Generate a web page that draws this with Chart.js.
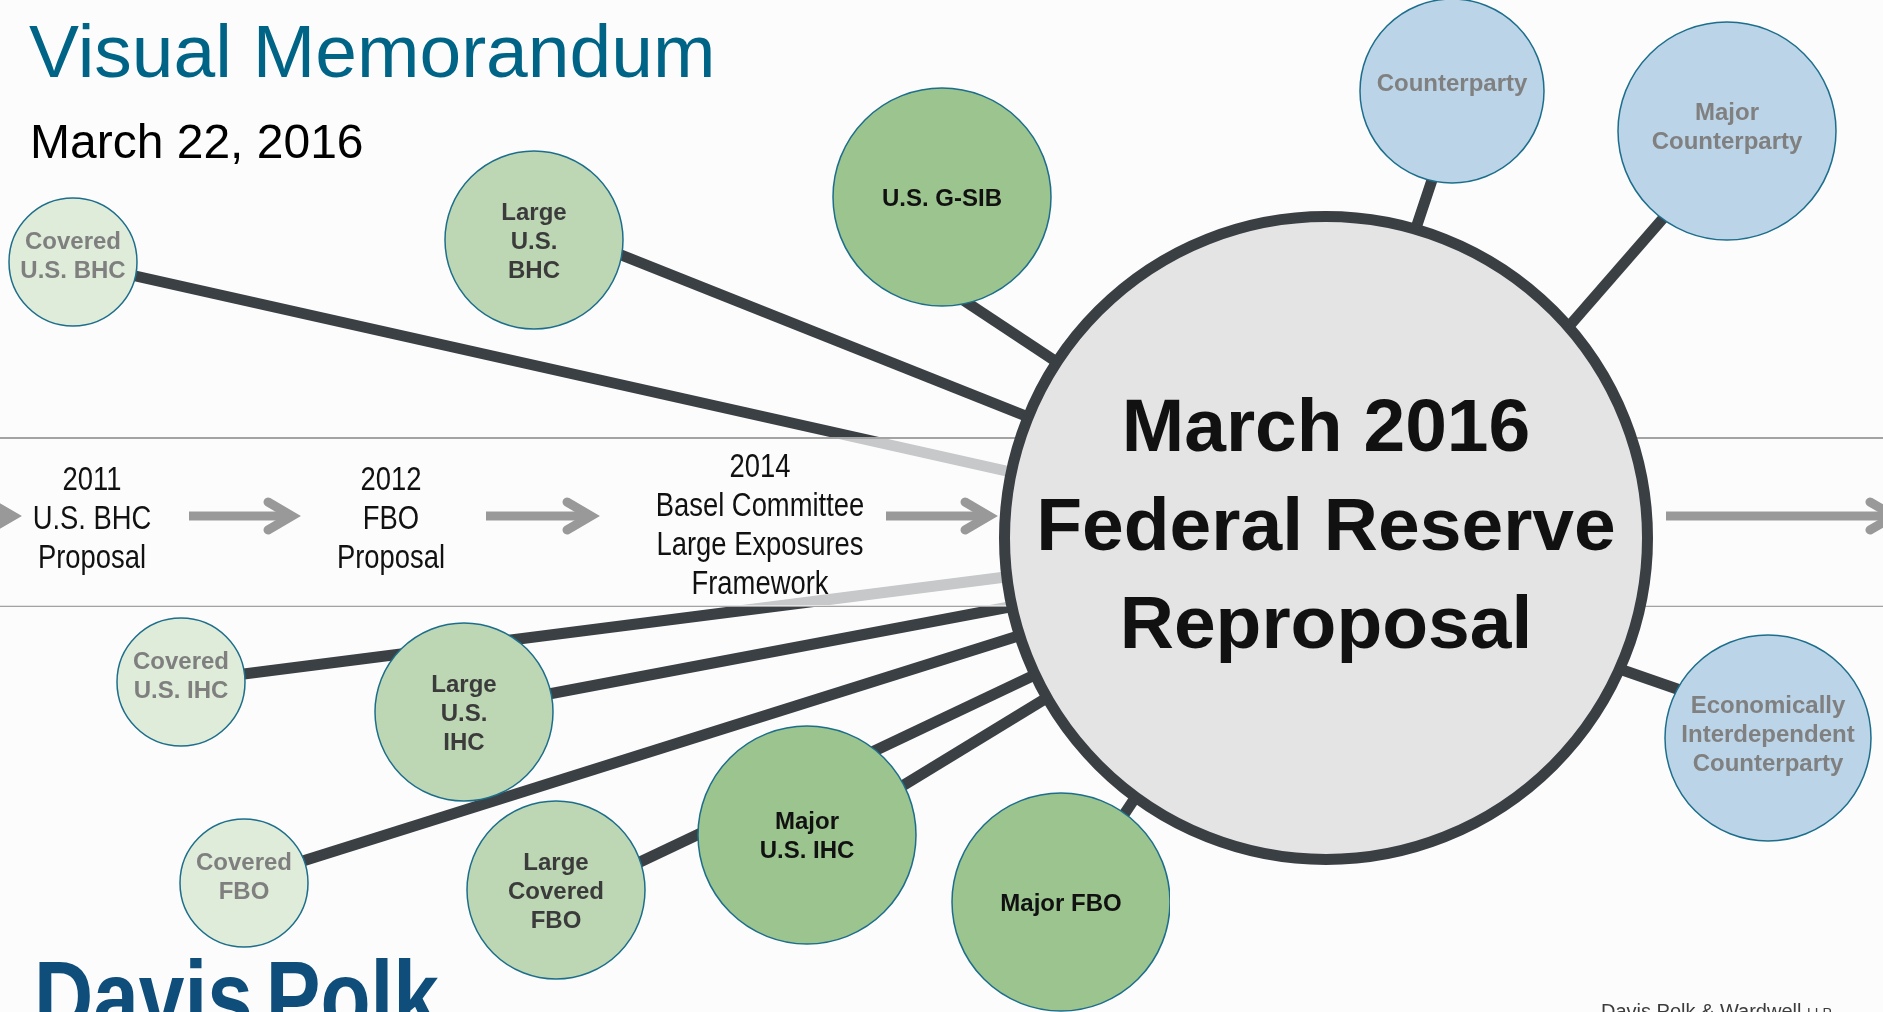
<!DOCTYPE html>
<html>
<head>
<meta charset="utf-8">
<script src="https://cdn.jsdelivr.net/npm/chart.js@4.4.1/dist/chart.umd.min.js"></script>
<style>
  html, body { margin:0; padding:0; background:#fcfcfc; overflow:hidden; width:1883px; height:1012px; }
  #wrap { position:absolute; left:0; top:0; width:1883px; height:1012px; }
  .t { position:absolute; white-space:nowrap; line-height:1; }
  #title { left:29px; top:8px; font:75px "Liberation Sans", Arial, sans-serif; color:#006487; }
  #date { left:30px; top:114px; font:48px "Liberation Sans", Arial, sans-serif; color:#000; }
  #logo { left:34px; top:939px; font:bold 100px "Liberation Sans", Arial, sans-serif; color:#0f4e7b; word-spacing:-12px; transform:scaleX(0.82); transform-origin:0 0; }
  #foot { left:1601px; top:1000px; font:20px "Liberation Sans", Arial, sans-serif; color:#3c3c3c; }
</style>
</head>
<body>
<div id="wrap"><canvas id="c"></canvas></div>
<div class="t" id="title">Visual Memorandum</div>
<div class="t" id="date">March 22, 2016</div>
<div class="t" id="logo">Davis Polk</div>
<div class="t" id="foot">Davis Polk &amp; Wardwell <span style="font-variant:small-caps">llp</span></div>
<script>
// ---------- data (diagram nodes) ----------
const nodeLabels = ["Covered\nU.S. BHC", "Large\nU.S.\nBHC", "U.S. G-SIB", "Counterparty", "Major\nCounterparty",
  "Economically\nInterdependent\nCounterparty", "Covered\nU.S. IHC", "Large\nU.S.\nIHC", "Covered\nFBO",
  "Large\nCovered\nFBO", "Major\nU.S. IHC", "Major FBO"];
const nodeX = [73, 534, 942, 1452, 1727, 1768, 181, 464, 244, 556, 807, 1061];
const nodeY = [262, 240, 197, 91, 131, 738, 682, 712, 883, 890, 835, 902];
const nodeR = [64, 89, 109, 92, 109, 103, 64, 89, 64, 89, 109, 109];
const nodeTier = ["covered", "large", "major", "cpty", "cpty", "cpty", "covered", "large", "covered", "large", "major", "major"];

const hubLabel = ["March 2016", "Federal Reserve", "Reproposal"];
const hubX = [1326];
const hubY = [538];
const hubR = [327];

// connector segments (start hidden under a node, end hidden under the hub)
const connX0 = [73, 576, 942, 1444, 1693, 1729, 181, 480, 252, 564, 817, 1081];
const connY0 = [262, 237, 286, 144, 184, 707, 682, 707, 877, 898, 838, 879];
const connX1 = [1100, 1081, 1105, 1404, 1537, 1585, 1100, 1057, 1069, 1081, 1081, 1177];
const connY1 = [492, 438, 394, 264, 363, 657, 565, 598, 620, 653, 677, 735];

// timeline
const timelineLabels = [["2011", "U.S. BHC", "Proposal"], ["2012", "FBO", "Proposal"],
  ["2014", "Basel Committee", "Large Exposures", "Framework"]];
const timelineX = [92, 391, 760];
const bandEdges = [438, 606];
const arrowTail = [-60, 189, 486, 886, 1666];
const arrowTip = [22, 301, 600, 998, 1903];

// ---------- styles / layout ----------
const W = 1883, H = 1012;
const ARROW_Y = 516;
const timelineCenterY = [517, 517, 524];
const TL_SCALE = 0.83;
const tierStyle = {
  covered: { fill: '#dfecd9', text: '#7f7f7f', dy: -7 },
  large:   { fill: '#bdd7b4', text: '#3b3b3b', dy: 0 },
  major:   { fill: '#9bc48e', text: '#111111', dy: 0 },
  cpty:    { fill: '#bbd4e8', text: '#808080', dy: -5 }
};
const labelShift = { 3: -4 };   // extra vertical nudge for single-line "Counterparty"
const CLIP_NODE = 11, CLIP_AT = 1170;

const datasets = [];
// connectors
for (let i = 0; i < connX0.length; i++) {
  datasets.push({
    type: 'line', showLine: true,
    data: [{ x: connX0[i], y: connY0[i] }, { x: connX1[i], y: connY1[i] }],
    borderColor: '#3b4044', borderWidth: 11, pointRadius: 0, borderCapStyle: 'butt',
    order: 50, clip: false, fill: false
  });
}
// timeline band (translucent overlay + edges)
datasets.push({
  type: 'line', showLine: true,
  data: [{ x: -10, y: bandEdges[0] }, { x: W + 10, y: bandEdges[0] }],
  fill: { value: bandEdges[1] }, backgroundColor: 'rgba(252,252,252,0.72)',
  borderColor: '#a3a3a3', borderWidth: 2, pointRadius: 0, order: 40, clip: false
});
datasets.push({
  type: 'line', showLine: true,
  data: [{ x: -10, y: bandEdges[1] }, { x: W + 10, y: bandEdges[1] }],
  borderColor: '#a3a3a3', borderWidth: 2, pointRadius: 0, order: 40, clip: false, fill: false
});
// arrows
for (let i = 0; i < arrowTip.length; i++) {
  const tip = arrowTip[i], vx = tip - 9;
  datasets.push({
    type: 'line', showLine: true,
    data: [{ x: arrowTail[i], y: ARROW_Y }, { x: vx - 2, y: ARROW_Y }],
    borderColor: '#999999', borderWidth: 9, pointRadius: 0, borderCapStyle: 'butt',
    order: 30, clip: false, fill: false
  });
  datasets.push({
    type: 'line', showLine: true,
    data: [{ x: vx - 24, y: ARROW_Y - 14 }, { x: vx, y: ARROW_Y }, { x: vx - 24, y: ARROW_Y + 14 }],
    borderColor: '#999999', borderWidth: 9, pointRadius: 0, borderCapStyle: 'round',
    borderJoinStyle: 'miter', order: 30, clip: false, fill: false
  });
}
// nodes
const mainIdx = nodeX.map((_, i) => i).filter(i => i !== CLIP_NODE);
function nodeDataset(idx, extra) {
  return Object.assign({
    type: 'bubble',
    data: idx.map(i => ({ x: nodeX[i], y: nodeY[i], r: nodeR[i] })),
    backgroundColor: idx.map(i => tierStyle[nodeTier[i]].fill),
    borderColor: '#1d6e8c', borderWidth: 1.5,
    nodeIdx: idx, order: 20, clip: false
  }, extra || {});
}
datasets.push(nodeDataset(mainIdx));
datasets.push(nodeDataset([CLIP_NODE], { order: 19, clip: { left: false, top: false, bottom: false, right: -(W - CLIP_AT) } }));
// hub
datasets.push({
  type: 'bubble',
  data: hubX.map((x, i) => ({ x: x, y: hubY[i], r: hubR[i] - 5.5 })),
  backgroundColor: '#e4e4e4', borderColor: '#3a3f44', borderWidth: 11,
  hub: true, order: 10, clip: false
});

function drawLines(ctx, lines, cx, cy, lh, fontPx, sx) {
  const n = lines.length;
  sx = sx || 1;
  lines.forEach((s, k) => {
    const mid = cy + (k - (n - 1) / 2) * lh;
    ctx.save();
    ctx.translate(cx, mid + 0.358 * fontPx);
    ctx.scale(sx, 1);
    ctx.fillText(s, 0, 0);
    ctx.restore();
  });
}

const labelPlugin = {
  id: 'diagramLabels',
  afterDatasetsDraw(chart) {
    const ctx = chart.ctx;
    ctx.save();
    ctx.textAlign = 'center';
    ctx.textBaseline = 'alphabetic';
    chart.data.datasets.forEach((ds, di) => {
      const meta = chart.getDatasetMeta(di);
      if (ds.nodeIdx) {
        ctx.font = 'bold 24px "Liberation Sans", Arial, sans-serif';
        meta.data.forEach((el, k) => {
          const i = ds.nodeIdx[k];
          const st = tierStyle[nodeTier[i]];
          ctx.fillStyle = st.text;
          drawLines(ctx, nodeLabels[i].split('\n'), el.x, el.y + st.dy + (labelShift[i] || 0), 29, 24);
        });
      } else if (ds.hub) {
        ctx.font = 'bold 75px "Liberation Sans", Arial, sans-serif';
        ctx.fillStyle = '#111111';
        meta.data.forEach(el => drawLines(ctx, hubLabel, el.x, el.y - 15, 98.5, 75));
      }
    });
    // timeline labels
    const xs = chart.scales.x, ys = chart.scales.y;
    ctx.font = '33px "Liberation Sans", Arial, sans-serif';
    ctx.fillStyle = '#111111';
    timelineLabels.forEach((lines, g) => {
      drawLines(ctx, lines, xs.getPixelForValue(timelineX[g]), ys.getPixelForValue(timelineCenterY[g]), 39, 33, TL_SCALE);
    });
    ctx.restore();
  }
};

new Chart(document.getElementById('c'), {
  type: 'scatter',
  data: { datasets: datasets },
  options: {
    responsive: true, maintainAspectRatio: false, animation: false, devicePixelRatio: 1,
    events: [],
    layout: { padding: 0, autoPadding: false },
    plugins: { legend: { display: false }, tooltip: { enabled: false } },
    scales: {
      x: { type: 'linear', min: 0, max: W, display: false },
      y: { type: 'linear', min: 0, max: H, reverse: true, display: false }
    }
  },
  plugins: [labelPlugin]
});
</script>
</body>
</html>
